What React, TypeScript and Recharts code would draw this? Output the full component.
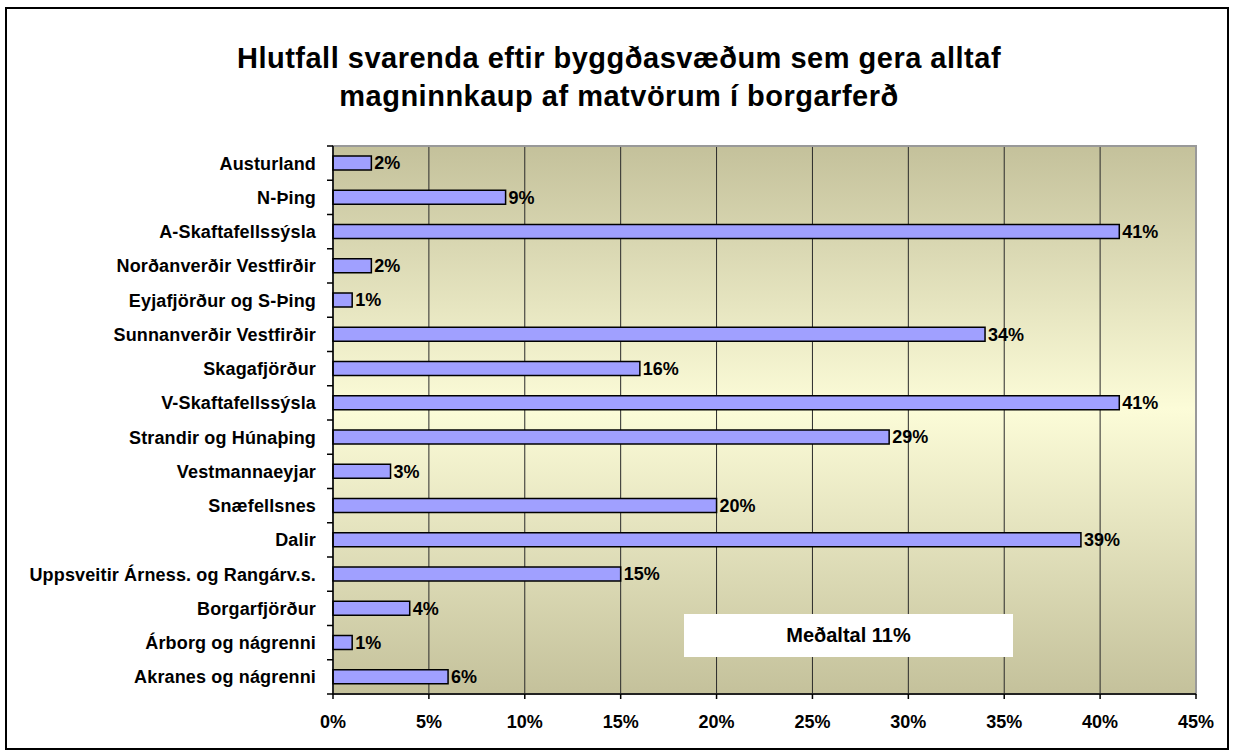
import {
  BarChart,
  Bar,
  XAxis,
  YAxis,
  CartesianGrid,
  ReferenceArea,
  LabelList,
} from "recharts";

const regions = [
  "Austurland",
  "N-Þing",
  "A-Skaftafellssýsla",
  "Norðanverðir Vestfirðir",
  "Eyjafjörður og S-Þing",
  "Sunnanverðir Vestfirðir",
  "Skagafjörður",
  "V-Skaftafellssýsla",
  "Strandir og Húnaþing",
  "Vestmannaeyjar",
  "Snæfellsnes",
  "Dalir",
  "Uppsveitir Árness. og Rangárv.s.",
  "Borgarfjörður",
  "Árborg og nágrenni",
  "Akranes og nágrenni",
];

const shares = [2, 9, 41, 2, 1, 34, 16, 41, 29, 3, 20, 39, 15, 4, 1, 6];

const xTicks = [0, 5, 10, 15, 20, 25, 30, 35, 40, 45];

const titleLines = [
  "Hlutfall svarenda eftir byggðasvæðum sem gera alltaf",
  "magninnkaup af matvörum í borgarferð",
];
const averageText = "Meðaltal 11%";

const W = 1236;
const H = 754;
const TOP = 146;
const BOTTOM = 60;
const PLOT_H = H - TOP - BOTTOM;
const FONT = "Arial, 'Liberation Sans', sans-serif";

const data = regions.map((name, i) => ({ name, value: shares[i] }));

function RegionTick(props: any) {
  const { x, y, payload, index } = props;
  const band = PLOT_H / regions.length;
  return (
    <g>
      {index === 0 && (
        <line x1={x - 6} x2={x} y1={y - band / 2} y2={y - band / 2} stroke="#000" strokeWidth={1.5} />
      )}
      <line x1={x - 6} x2={x} y1={y + band / 2} y2={y + band / 2} stroke="#000" strokeWidth={1.5} />
      <text
        x={x - 17}
        y={y}
        dy="0.36em"
        textAnchor="end"
        fontFamily={FONT}
        fontWeight="bold"
        fontSize={18}
        letterSpacing={0.15}
        fill="#000"
      >
        {payload.value}
      </text>
    </g>
  );
}

export default function App() {
  return (
    <div style={{ position: "fixed", left: 0, top: 0, width: W, height: H, background: "#fff" }}>
      <div
        style={{
          position: "absolute",
          left: 5,
          top: 7,
          width: 1220,
          height: 739,
          border: "2px solid #000",
        }}
      />
      <div
        style={{
          position: "absolute",
          left: 0,
          width: 1238,
          top: 39,
          textAlign: "center",
          fontFamily: FONT,
          fontWeight: "bold",
          fontSize: 29,
          letterSpacing: 0.5,
          lineHeight: "38px",
          color: "#000",
        }}
      >
        {titleLines.map((t) => (
          <div key={t}>{t}</div>
        ))}
      </div>
      <div style={{ position: "absolute", left: 0, top: 0 }}>
        <BarChart
          width={W}
          height={H}
          data={data}
          layout="vertical"
          margin={{ top: TOP, right: 40, left: 33, bottom: 30 }}
          barSize={14}
        >
          <defs>
            <linearGradient id="plotBg" x1="0" y1="0" x2="0" y2="1">
              <stop offset="0%" stopColor="#c4c19b" />
              <stop offset="48%" stopColor="#fcfcd8" />
              <stop offset="100%" stopColor="#c4c19b" />
            </linearGradient>
          </defs>
          <CartesianGrid
            horizontal={false}
            stroke="#2a2a2a"
            strokeWidth={1}
            fill="url(#plotBg)"
            fillOpacity={1}
          />
          <ReferenceArea x1={0} x2={45} fill="none" stroke="#999" strokeWidth={2} ifOverflow="visible" />
          <XAxis
            type="number"
            domain={[0, 45]}
            ticks={xTicks}
            tickFormatter={(v) => `${v}%`}
            height={30}
            tickSize={5}
            tickMargin={16}
            tickLine={{ stroke: "#000", strokeWidth: 1.5 }}
            axisLine={{ stroke: "#222", strokeWidth: 2 }}
            tick={{ fontFamily: FONT, fontWeight: "bold", fontSize: 18, fill: "#000" }}
            interval={0}
          />
          <YAxis
            type="category"
            dataKey="name"
            width={300}
            tickSize={0}
            tickMargin={0}
            tickLine={false}
            axisLine={{ stroke: "#000", strokeWidth: 1.5 }}
            tick={<RegionTick />}
            interval={0}
          />
          <Bar dataKey="value" fill="#a0a0ff" stroke="#000" strokeWidth={1.5} isAnimationActive={false}>
            <LabelList
              dataKey="value"
              position="right"
              offset={3}
              formatter={(v: any) => `${v}%`}
              style={{ fontFamily: FONT, fontWeight: "bold", fontSize: 18, fill: "#000" }}
            />
          </Bar>
        </BarChart>
      </div>
      <div
        style={{
          position: "absolute",
          left: 684,
          top: 614,
          width: 329,
          height: 43,
          background: "#fff",
          display: "flex",
          alignItems: "center",
          justifyContent: "center",
          fontFamily: FONT,
          fontWeight: "bold",
          fontSize: 20,
          color: "#000",
        }}
      >
        {averageText}
      </div>
    </div>
  );
}
